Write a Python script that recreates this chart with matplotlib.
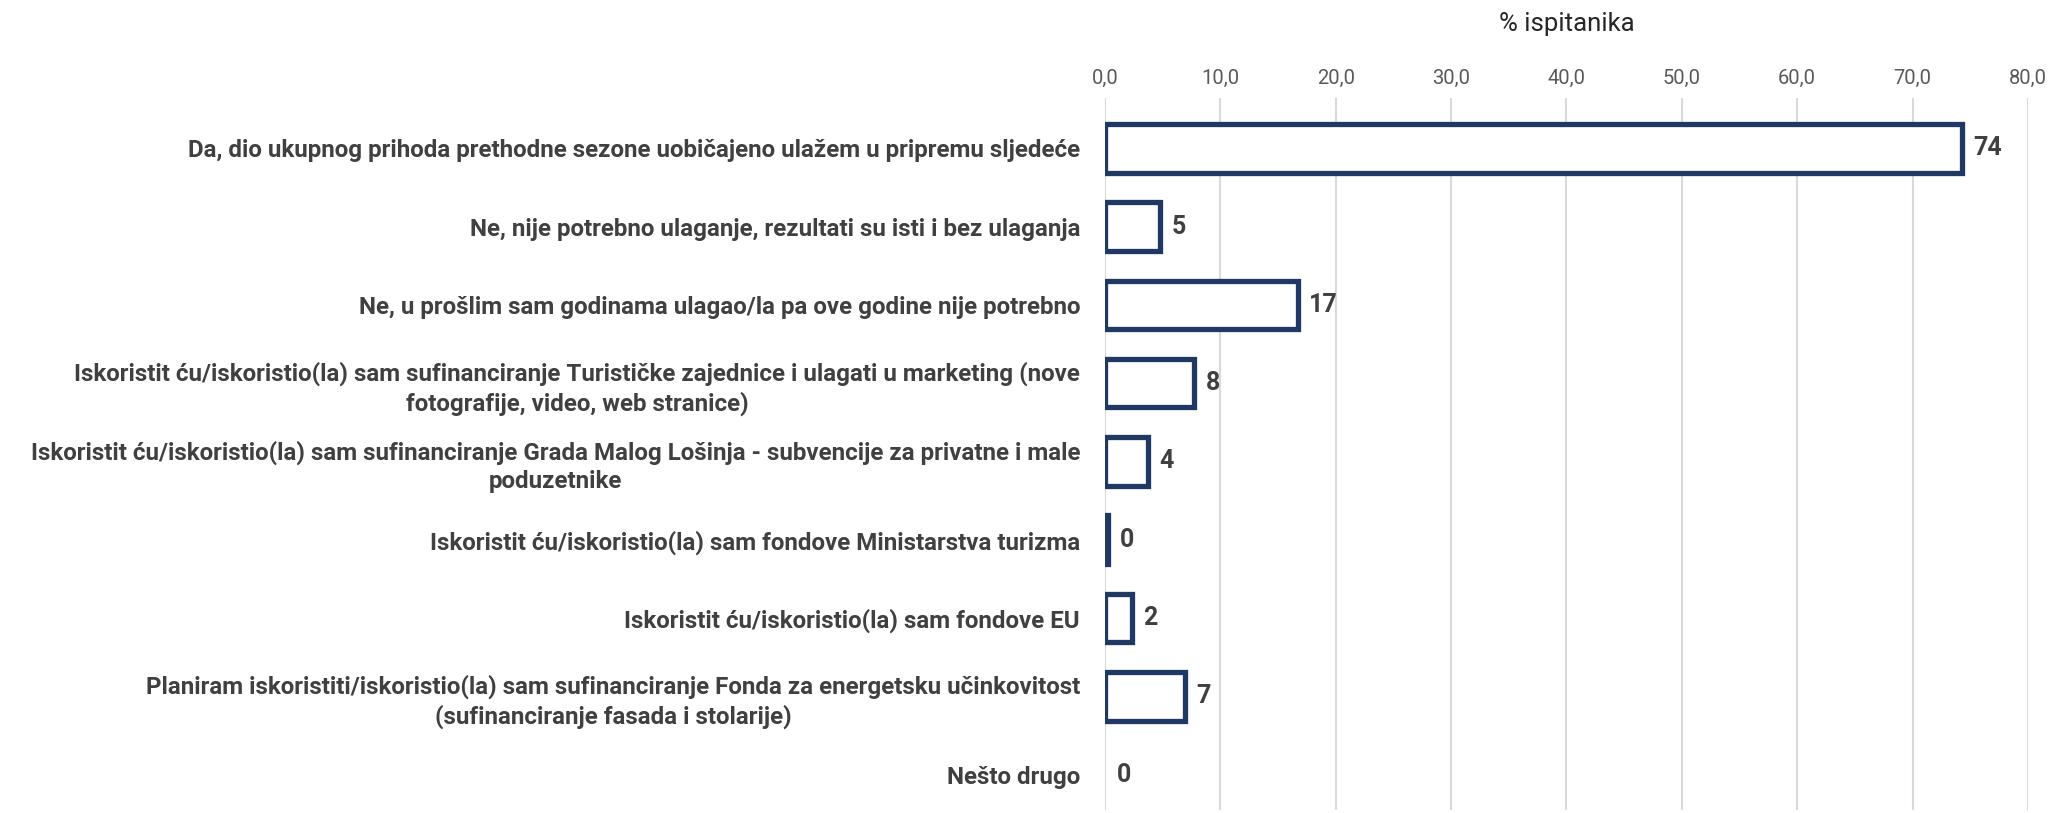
import matplotlib.pyplot as plt

plt.rcParams['font.family'] = ['Roboto', 'DejaVu Sans']

# Dados
odgovori = [
    "Da, dio ukupnog prihoda prethodne sezone uobičajeno ulažem u pripremu sljedeće",
    "Ne, nije potrebno ulaganje, rezultati su isti i bez ulaganja",
    "Ne, u prošlim sam godinama ulagao/la pa ove godine nije potrebno",
    "Iskoristit ću/iskoristio(la) sam sufinanciranje Turističke zajednice i ulagati u marketing (nove\nfotografije, video, web stranice)",
    "Iskoristit ću/iskoristio(la) sam sufinanciranje Grada Malog Lošinja - subvencije za privatne i male\npoduzetnike",
    "Iskoristit ću/iskoristio(la) sam fondove Ministarstva turizma",
    "Iskoristit ću/iskoristio(la) sam fondove EU",
    "Planiram iskoristiti/iskoristio(la) sam sufinanciranje Fonda za energetsku učinkovitost\n(sufinanciranje fasada i stolarije)",
    "Nešto drugo",
]
postotci = [74.3, 4.8, 16.7, 7.7, 3.7, 0.3, 2.3, 6.9, 0.0]
x_ticks = [0, 10, 20, 30, 40, 50, 60, 70, 80]

plava = "#1F3864"
siva_tekst = "#404040"

fig = plt.figure(figsize=(20.49, 8.13), dpi=100)
ax = fig.add_axes([0.5393, 0.004, 0.4504, 0.876])

poz = list(range(len(odgovori)))
rubovi = [3.8 if v > 0 else 0 for v in postotci]
ax.barh(poz, postotci, height=0.62, color="white", edgecolor=plava, linewidth=rubovi, zorder=3)

for y, v in zip(poz, postotci):
    ax.text(v + 1.0, y, f"{v:.0f}", va="center", ha="left", fontsize=18,
            fontweight="bold", color=siva_tekst)

ax.set_yticks(poz)
ax.set_yticklabels(odgovori, fontsize=17.4, fontweight="bold", color=siva_tekst,
                   linespacing=1.3)
for t in ax.get_yticklabels():
    t.set_multialignment("center")
ax.set_ylim(8.45, -0.65)

ax.set_xlim(0, 80)
ax.set_xticks(x_ticks)
ax.set_xticklabels([f"{x:.1f}".replace(".", ",") for x in x_ticks], fontsize=14.5, color="#595959")
ax.xaxis.tick_top()
ax.xaxis.set_label_position("top")
ax.set_xlabel("% ispitanika", fontsize=18.5, color="#262626", labelpad=27)
ax.tick_params(axis="y", length=0, pad=18)
ax.tick_params(axis="x", length=0, pad=7)

ax.grid(True, axis="x", color="#D9D9D9", linewidth=1.5, zorder=0)
for s in ax.spines.values():
    s.set_visible(False)

fig.savefig("out.png", dpi=100)
